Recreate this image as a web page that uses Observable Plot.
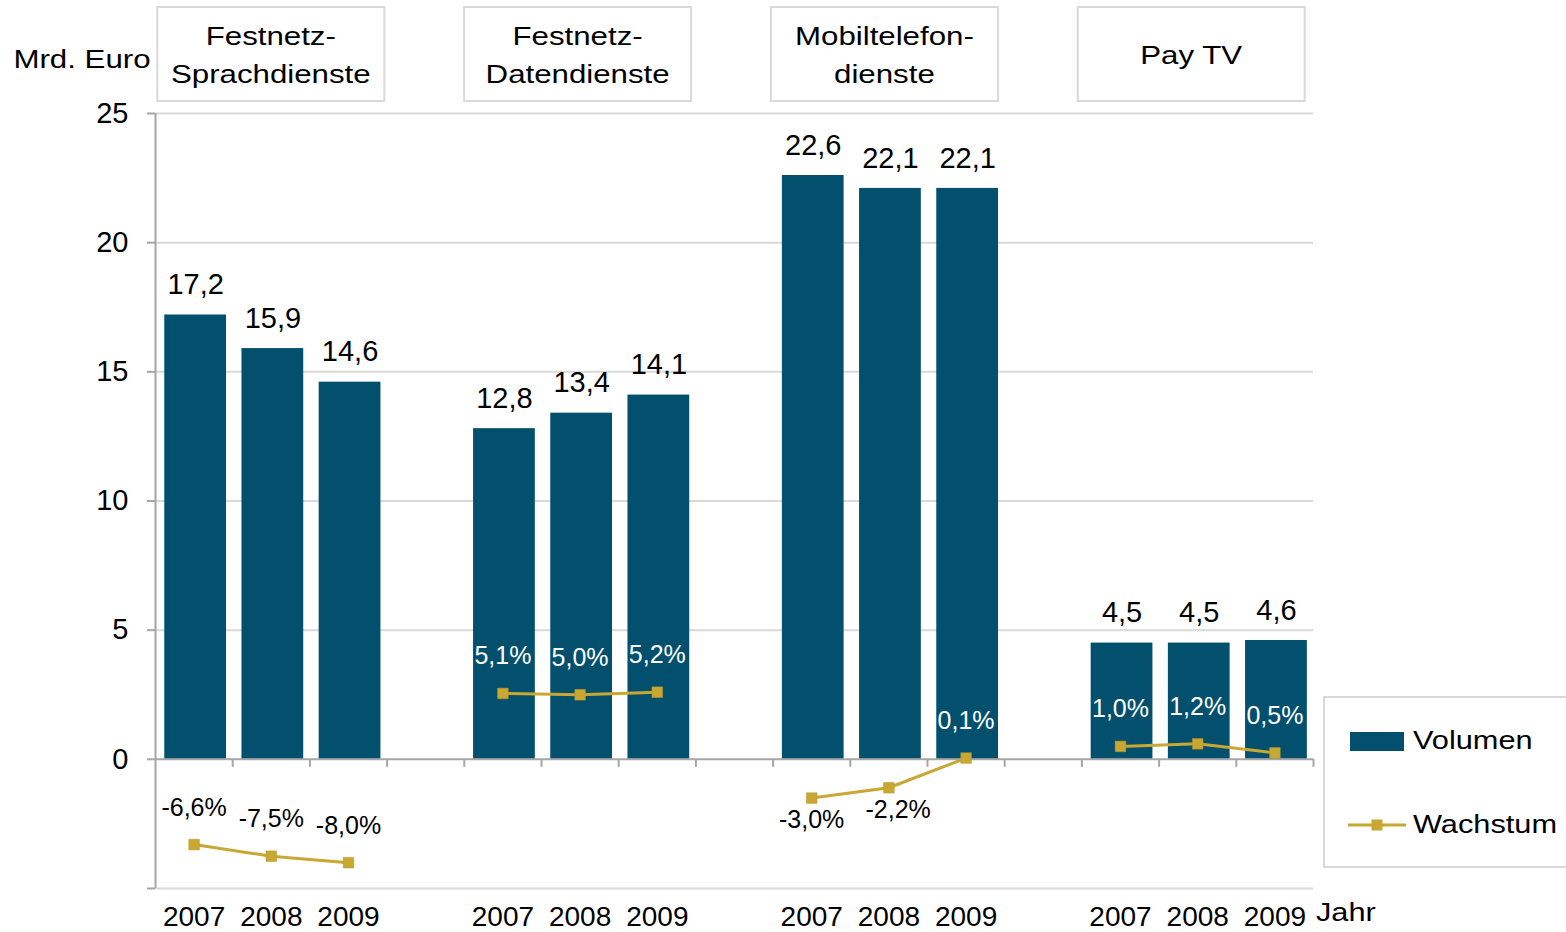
<!DOCTYPE html>
<html><head><meta charset="utf-8">
<script src="https://cdn.jsdelivr.net/npm/d3@7"></script>
<script src="https://cdn.jsdelivr.net/npm/@observablehq/plot@0.6"></script>
<style>body{margin:0;background:#fff;} svg{display:block}</style>
</head><body><div id="chart"></div>
<script>
// ---- data ----
const groupNames = ["Festnetz-\nSprachdienste", "Festnetz-\nDatendienste", "Mobiltelefon-\ndienste", "Pay TV"];
const years = ["2007", "2008", "2009"];
const volumen = [17.2, 15.9, 14.6, 12.8, 13.4, 14.1, 22.6, 22.1, 22.1, 4.5, 4.5, 4.6];   // Mrd. Euro
const wachstum = [-6.6, -7.5, -8.0, 5.1, 5.0, 5.2, -3.0, -2.2, 0.1, 1.0, 1.2, 0.5];     // %
const yTicks = [-5, 0, 5, 10, 15, 20, 25];
const yDomain = [-5, 25];
const growthDomain = [-10, 50]; // secondary axis (hidden)

// ---- styles ----
const BAR = "#02506e", GOLD = "#c8a832", GRID = "#d9d9d9", AXIS = "#a6a6a6";
const FONT = "'Liberation Sans', Arial, sans-serif";

const toPrimary = d3.scaleLinear().domain(growthDomain).range(yDomain);
const fmt = v => v.toFixed(1).replace(".", ",");

const rows = volumen.map((v, k) => {
  const g = Math.floor(k / 3), i = k % 3;
  return {g, i, year: years[i], slot: g * 4 + i, vol: v, gr: wachstum[k]};
});
const boundaries = d3.range(1, 16);

function growthColor(d) { return (d.g === 0 || (d.g === 2 && d.gr < 0)) ? "black" : "white"; }
function below(d) { return d.g === 2 && d.gr < 0; }

const chart = Plot.plot({
  width: 1566, height: 932,
  marginLeft: 155, marginRight: 253, marginTop: 113, marginBottom: 44,
  style: {fontFamily: FONT, background: "white", color: "black", overflow: "visible"},
  x: {type: "linear", domain: [0, 15], axis: null},
  y: {domain: yDomain, axis: null},
  marks: [
    Plot.ruleY(yTicks.filter(t => t !== 0), {stroke: GRID, strokeWidth: 2}),
    Plot.rectY(rows, {x1: d => d.slot + 0.12, x2: d => d.slot + 0.92, y1: 0, y2: "vol", fill: BAR}),
    Plot.ruleY([0], {stroke: AXIS, strokeWidth: 2}),
    Plot.ruleX(boundaries, {y1: 0, y2: -0.31, stroke: AXIS, strokeWidth: 2}),
    Plot.ruleX([0], {y1: yDomain[0], y2: yDomain[1], stroke: AXIS, strokeWidth: 2}),
    Plot.axisY(yTicks, {tickSize: 8, tickPadding: 19, strokeWidth: 2, stroke: AXIS, fill: "black",
      tickFormat: d => d < 0 ? "" : String(d), fontSize: 29, label: null}),
    Plot.text(rows, {x: d => d.slot + 0.52, y: "vol", text: d => fmt(d.vol), dy: -30,
      lineAnchor: "middle", fontSize: 29, fill: "black"}),
    Plot.line(rows, {x: d => d.slot + 0.5, y: d => toPrimary(d.gr), z: "g", stroke: GOLD, strokeWidth: 3}),
    Plot.dot(rows, {x: d => d.slot + 0.5, y: d => toPrimary(d.gr), symbol: "square", r: 6, fill: GOLD, stroke: "#b8992a", strokeWidth: 0.5}),
    Plot.text(rows.filter(d => !below(d)), {x: d => d.slot + 0.5, y: d => toPrimary(d.gr), text: d => fmt(d.gr) + "%",
      dy: -37, lineAnchor: "middle", fontSize: 25, fill: growthColor}),
    Plot.text(rows.filter(below), {x: d => d.slot + 0.5 + d.i * 0.12, y: d => toPrimary(d.gr), text: d => fmt(d.gr) + "%",
      dy: d => 0, lineAnchor: "middle", fontSize: 25, fill: growthColor, dy: 22}),
    Plot.text(rows, {x: d => d.slot + 0.5, text: "year", frameAnchor: "bottom", dy: 29,
      lineAnchor: "middle", fontSize: 28, fill: "black"})
  ]
});
document.getElementById("chart").append(chart);

// ---- decorations: header boxes, unit label, legend ----
const svg = d3.select(chart);
const xs = chart.scale("x");
const deco = svg.append("g").attr("font-family", FONT).attr("fill", "black");
function stretchedText(parent, str, x, y, size, sx, anchor) {
  parent.append("text").attr("transform", `translate(${x},${y}) scale(${sx},1)`)
    .attr("text-anchor", anchor).attr("dominant-baseline", "central")
    .attr("font-size", size).text(str);
}
groupNames.forEach((name, g) => {
  const cx = xs.apply(g * 4 + 1.5) - 2 * g;
  deco.append("rect").attr("x", cx - 113.5).attr("y", 7).attr("width", 227).attr("height", 94)
    .attr("fill", "white").attr("stroke", GRID).attr("stroke-width", 2);
  const lines = name.split("\n");
  const cy = 55;
  lines.forEach((ln, j) => {
    const y = lines.length === 1 ? cy : cy - 19 + j * 38;
    stretchedText(deco, ln, cx, y, 25, 1.25, "middle");
  });
});
stretchedText(deco, "Mrd. Euro", 82, 59, 25, 1.25, "middle");
stretchedText(deco, "Jahr", 1316, 913, 25, 1.23, "start");

const lg = deco.append("g");
lg.append("rect").attr("x", 1324).attr("y", 697).attr("width", 250).attr("height", 170)
  .attr("fill", "white").attr("stroke", GRID).attr("stroke-width", 2);
lg.append("rect").attr("x", 1350).attr("y", 732).attr("width", 54).attr("height", 19).attr("fill", BAR);
lg.append("line").attr("x1", 1348).attr("x2", 1406).attr("y1", 825).attr("y2", 825)
  .attr("stroke", GOLD).attr("stroke-width", 3);
lg.append("rect").attr("x", 1371.5).attr("y", 819.5).attr("width", 11).attr("height", 11).attr("fill", GOLD);
stretchedText(lg, "Volumen", 1413, 741, 25, 1.23, "start");
stretchedText(lg, "Wachstum", 1413, 825, 25, 1.23, "start");
</script></body></html>
